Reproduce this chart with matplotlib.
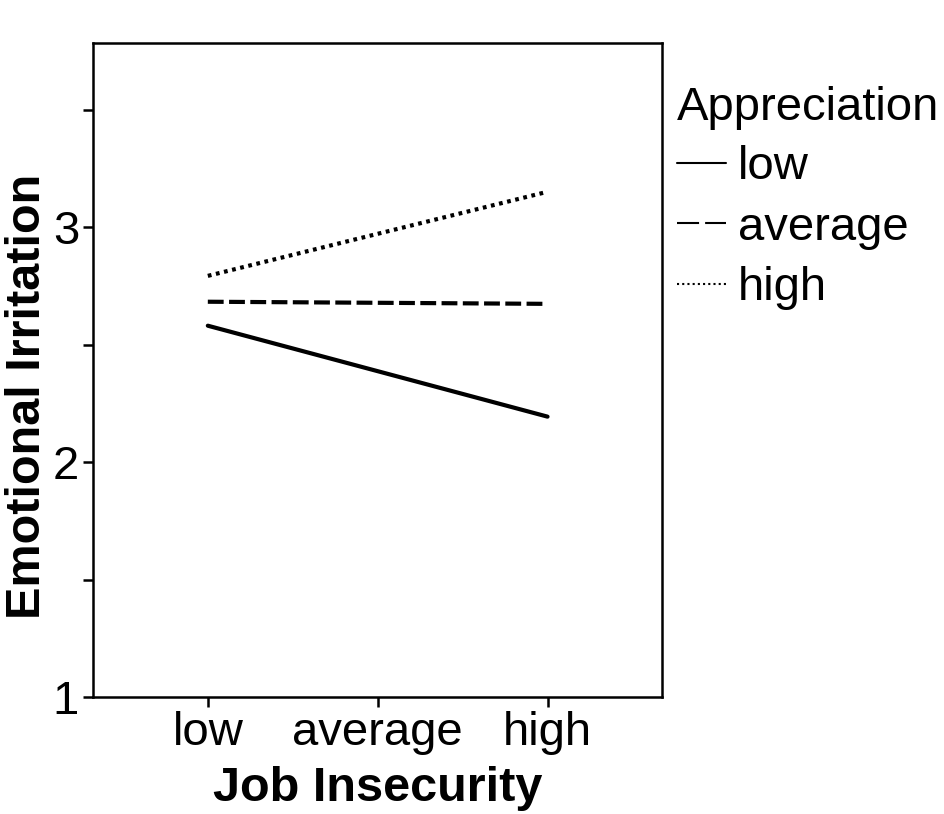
import matplotlib
matplotlib.use("Agg")
import matplotlib.pyplot as plt

plt.rcParams['font.family'] = ['Liberation Sans', 'DejaVu Sans']

x_labels = ["low", "average", "high"]
x_pos = [0, 2]
series_names = ["low", "average", "high"]
low_vals = [2.58, 2.193]
avg_vals = [2.682, 2.673]
high_vals = [2.792, 3.150]
y_ticks = [1, 2, 3]
y_minor = [1.5, 2.5, 3.5]

fig = plt.figure(figsize=(9.45, 8.14), dpi=100)
ax = fig.add_axes([93/945, 1-697/814, (662-93)/945, (697-43)/814])

lw = 3.0
l1, = ax.plot(x_pos, low_vals, color='black', lw=lw, solid_capstyle='round', label=series_names[0])
l2, = ax.plot(x_pos, avg_vals, color='black', lw=lw, linestyle=(0, (3.8, 1.3)), label=series_names[1])
l3, = ax.plot(x_pos, high_vals, color='black', lw=lw, linestyle=(0, (0.9, 1.1)), label=series_names[2])

ax.set_xlim(-0.676, 2.674)
ax.set_ylim(1, 3.783)
ax.set_xticks([0, 1, 2])
ax.set_xticklabels(x_labels)
ax.set_yticks(y_ticks + y_minor)
ax.set_yticklabels([str(v) for v in y_ticks] + [''] * len(y_minor))

for s in ax.spines.values():
    s.set_linewidth(1.8)
ax.tick_params(axis='both', direction='out', length=7, width=1.8, labelsize=34, pad=3)

ax.set_xlabel("Job Insecurity", fontsize=35, fontweight='bold', labelpad=8)
ax.set_ylabel("Emotional Irritation", fontsize=35, fontweight='bold')
ax.yaxis.set_label_coords(-0.0754, 0.459)

leg = ax.legend(title="Appreciation", loc='upper left', bbox_to_anchor=(1.026, 0.934),
                frameon=False, fontsize=34, title_fontsize=34, handlelength=1.05,
                handletextpad=0.25, labelspacing=0.35, borderaxespad=0, borderpad=0)
leg._legend_box.align = "left"
leg._legend_box.sep = 11
hl = leg.get_lines()
hl[0].set_linewidth(1.5)
hl[1].set_linewidth(1.5); hl[1].set_linestyle((0, (10.6, 2.9)))
hl[2].set_linewidth(1.5); hl[2].set_linestyle((0, (1, 1.5)))

fig.savefig("out.png", dpi=100)
